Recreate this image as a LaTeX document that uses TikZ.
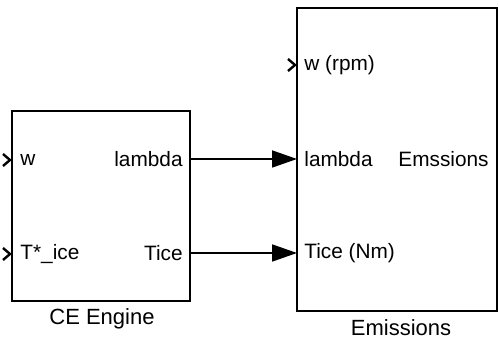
\documentclass[tikz,border=0pt]{standalone}
\usepackage{fontspec}
\setmainfont{Liberation Sans}
\usetikzlibrary{arrows.meta, positioning}

\begin{document}
\begin{tikzpicture}[
    x=0.5pt, y=-0.5pt,
    box/.style={draw, line width=1pt, minimum width=89pt, inner sep=0pt},
    port/.style={font=\fontsize{10.4}{12}\selectfont},
    arrow/.style={-{Triangle[length=12.5pt, width=8.5pt]}, line width=0.9pt},
    chev/.style={line width=1.2pt},
    every node/.style={font=\fontsize{11}{13}\selectfont, inner sep=0pt}
]
\useasboundingbox (0,0) rectangle (499,341);

% Blocks
\node[box, minimum height=95pt] (ce) at (101,206) {};
\node[box, minimum width=100pt, minimum height=151.5pt] (em) at (397,159.5) {};

% Block names
\node (cename) at (102,319) {CE Engine};
\node (emname) at (401,328) {Emissions};

% Ports
\coordinate (ce-w)    at (12,160);
\coordinate (ce-t)    at (12,254);
\coordinate (ce-lam)  at (190,159);
\coordinate (ce-tice) at (190,253);
\coordinate (em-w)    at (297,65);
\coordinate (em-lam)  at (297,159);
\coordinate (em-tice) at (297,253);

% Port labels
\node[port, anchor=west] (lw)    at (20,160)  {w};
\node[port, anchor=west] (lt)    at (20,254)  {T*\_ice};
\node[port, anchor=east] (llam)  at (183,159) {lambda};
\node[port, anchor=east] (ltice) at (183,253) {Tice};
\node[port, anchor=west] (lrpm)  at (304,65)  {w (rpm)};
\node[port, anchor=west] (llam2) at (304,159) {lambda};
\node[port, anchor=east] (lemo)  at (489,159) {Emssions};
\node[port, anchor=west] (lnm)   at (304,253) {Tice (Nm)};

% Open inputs
\foreach \p in {ce-w, ce-t, em-w}
  \draw[chev] ([shift={(-9,-6)}]\p) -- ([shift={(-2,0)}]\p) -- ([shift={(-9,6)}]\p);

% Signals
\draw[arrow] (ce-lam)  -- (em-lam);
\draw[arrow] (ce-tice) -- (em-tice);
\end{tikzpicture}
\end{document}
